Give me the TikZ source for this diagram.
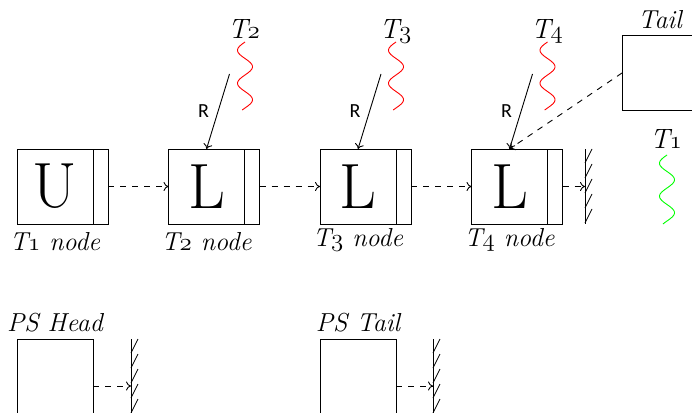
\documentclass[tikz,border=0pt]{standalone}
\usepackage{fontspec}
\newfontfamily\rfont{Carlito}
\usetikzlibrary{arrows.meta}
\begin{document}
\begin{tikzpicture}[x=1pt,y=-1pt,line width=0.9pt,
  every node/.style={inner sep=0pt,outer sep=0pt},
  cell/.style={draw,minimum width=76pt,minimum height=75pt,font=\fontsize{64}{68}\selectfont},
  ptrcell/.style={draw,minimum width=15pt,minimum height=75pt,anchor=west},
  link/.style={dash pattern=on 6pt off 6pt,-{To[length=5pt,width=9pt]}},
  rarrow/.style={-{To[length=5pt,width=9pt]}},
  lab/.style={font=\fontsize{26}{30}\selectfont\itshape,anchor=base},
  tlab/.style={font=\fontsize{28}{32}\selectfont\itshape,anchor=base},
  rlab/.style={font=\fontsize{20}{24}\rfont},
  hatch/.style={line width=0.8pt},
  wave/.style={line width=0.9pt}]
\useasboundingbox (0,0) rectangle (692,412);
\clip (0,0) rectangle (692,412);
% list nodes
\node[cell] (u) at (55,186.5) {U};
\node[ptrcell] (up) at (u.east) {};
\node[cell] (l1) at (206.5,186.5) {L};
\node[ptrcell] (l1p) at (l1.east) {};
\node[cell] (l2) at (358,186.5) {L};
\node[ptrcell] (l2p) at (l2.east) {};
\node[cell] (l3) at (509.5,186.5) {L};
\node[ptrcell] (l3p) at (l3.east) {};
% node labels
\node[lab] (ulab) at (55,250) {T$\mathnormal{1}$ node};
\node[lab] (l1lab) at (206.5,250) {T$\mathnormal{2}$ node};
\node[lab] (l2lab) at (358,246) {T$\mathnormal{3}$ node};
\node[lab] (l3lab) at (509.5,246) {T$\mathnormal{4}$ node};
% links
\draw[link] (up.east) -- (l1.west);
\draw[link] (l1p.east) -- (l2.west);
\draw[link] (l2p.east) -- (l3.west);
\coordinate (g1) at (585,186.5);
\draw[link] (l3p.east) -- (g1);
% ground symbols
\draw (585,149) -- (585,224);
\foreach \k in {0,...,4} \draw[hatch] (585,{149+15*\k+14}) -- (592,{149+15*\k});
% tail box
\node[draw,minimum width=76pt,minimum height=75pt] (tail) at (660,73) {};
\node[lab] (taillab) at (660,29) {Tail};
\draw[link] (tail.west) -- (l3.north);
% R arrows
\coordinate (r1) at (229.5,74);
\coordinate (r2) at (381,74);
\coordinate (r3) at (532.5,74);
\draw[rarrow] (r1) -- node[rlab,left=9pt] {R} (l1.north);
\draw[rarrow] (r2) -- node[rlab,left=9pt] {R} (l2.north);
\draw[rarrow] (r3) -- node[rlab,left=9pt] {R} (l3.north);
% waves
\draw[wave,red] plot[smooth,domain=0:68,samples=60] ({245-7.5*sin(10.909*\x)},{42+\x});
\draw[wave,red] plot[smooth,domain=0:68,samples=60] ({396-7.5*sin(10.909*\x)},{42+\x});
\draw[wave,red] plot[smooth,domain=0:68,samples=60] ({547.5-7.5*sin(10.909*\x)},{42+\x});
\draw[wave,green] plot[smooth,domain=0:69,samples=60] ({667-7.5*sin(10.909*\x)},{155+\x});
\node[tlab] (t2) at (244,38) {T$\mathnormal{2}$};
\node[tlab] (t3) at (395.5,38) {T$\mathnormal{3}$};
\node[tlab] (t4) at (547,38) {T$\mathnormal{4}$};
\node[tlab] (t1) at (666,148) {T$\mathnormal{1}$};
% PS boxes
\node[draw,minimum width=76pt,minimum height=94pt] (psh) at (55,386) {};
\node[lab] (pshlab) at (55,331.5) {PS Head};
\coordinate (g2) at (131,386);
\draw[link] (psh.east) -- (g2);
\draw (131,339) -- (131,440);
\foreach \k in {0,...,5} \draw[hatch] (131,{339+15*\k+14}) -- (138,{339+15*\k});
\node[draw,minimum width=76pt,minimum height=94pt] (pst) at (358,386) {};
\node[lab] (pstlab) at (358,331.5) {PS Tail};
\coordinate (g3) at (433,386);
\draw[link] (pst.east) -- (g3);
\draw (433,339) -- (433,440);
\foreach \k in {0,...,5} \draw[hatch] (433,{339+15*\k+14}) -- (440,{339+15*\k});
\end{tikzpicture}
\end{document}
